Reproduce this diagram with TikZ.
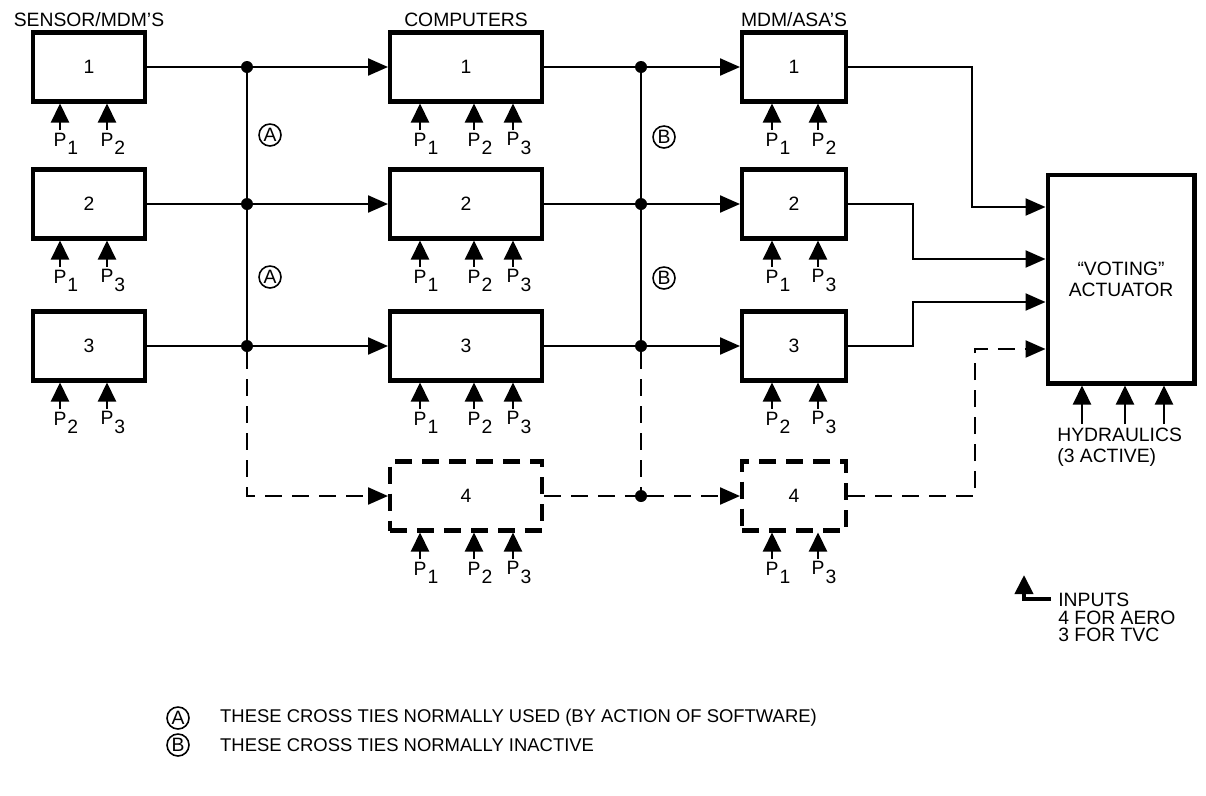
\documentclass[tikz,border=0pt]{standalone}
\usepackage{fontspec}
\setmainfont{Liberation Sans}
\usetikzlibrary{arrows.meta,positioning,calc}
\newcommand{\pn}[1]{P\rlap{\kern0.6pt\raisebox{-0.8ex}{#1}}}

\begin{document}
\begin{tikzpicture}[x=0.02cm,y=-0.02cm,font=\fontsize{11}{12}\selectfont,
  blk/.style={draw,line width=2.3pt,minimum height=1.38cm},
  sblk/.style={blk,minimum width=2.24cm},
  cblk/.style={blk,minimum width=3.04cm},
  mblk/.style={blk,minimum width=2.08cm},
  spare/.style={dash pattern=on 0.34cm off 0.2cm},
  wire/.style={line width=1.3pt},
  conn/.style={wire,-{Triangle[length=0.4cm,width=0.34cm]}},
  pwr/.style={line width=1.3pt,-{Triangle[length=0.38cm,width=0.36cm]}},
  dot/.style={circle,fill,inner sep=0pt,minimum size=0.24cm},
  tie/.style={circle,draw,line width=0.9pt,inner sep=0pt,minimum size=0.44cm},
  ttl/.style={inner sep=1pt},
  pin/.style={inner sep=1.5pt}]
\useasboundingbox (0,0) rectangle (1206,795);
% sensors, computers, MDM/ASA's
\node[sblk] (s1) at (89,67) {1};
\node[sblk] (s2) at (89,204) {2};
\node[sblk] (s3) at (89,346) {3};
\node[cblk] (c1) at (466,67) {1};
\node[cblk] (c2) at (466,204) {2};
\node[cblk] (c3) at (466,346) {3};
\node[cblk,spare] (c4) at (466,496) {4};
\node[mblk] (m1) at (794,67) {1};
\node[mblk] (m2) at (794,204) {2};
\node[mblk] (m3) at (794,346) {3};
\node[mblk,spare] (m4) at (794,496) {4};
\node[draw,line width=2.3pt,minimum width=2.94cm,minimum height=4.18cm,align=center] (act) at (1121,279) {``VOTING''\\ACTUATOR};
\node[ttl,above=1pt of s1] (ts) {SENSOR/MDM'S};
\node[ttl,above=1pt of c1] (tc) {COMPUTERS};
\node[ttl,above=1pt of m1] (tm) {MDM/ASA'S};

% power inputs
\foreach \b/\x/\n in {s1/60/1,s1/107/2,s2/60/1,s2/107/3,s3/60/2,s3/107/3,
  c1/420/1,c1/474/2,c1/513/3,c2/420/1,c2/474/2,c2/513/3,
  c3/420/1,c3/474/2,c3/513/3,c4/420/1,c4/474/2,c4/513/3,
  m1/772/1,m1/818/2,m2/772/1,m2/818/3,m3/772/2,m3/818/3,m4/772/1,m4/818/3}{
  \node[pin] (\b-\n) at ($(\b.south -| \x,0)+(0,40)$) {\pn{\n}};
  \draw[pwr] (\b-\n) -- (\b-\n |- \b.south);
}

% cross ties A
\node[dot] (a1) at (247,67) {};
\node[dot] (a2) at (247,204) {};
\node[dot] (a3) at (247,346) {};
\coordinate (a4) at (247,496);
\draw[wire] (s1) -- (a1);
\draw[wire] (s2) -- (a2);
\draw[wire] (s3) -- (a3);
\draw[conn] (a1) -- (c1);
\draw[conn] (a2) -- (c2);
\draw[conn] (a3) -- (c3);
\draw[wire] (a1) -- (a2) -- (a3);
\draw[conn,spare] (a3) -- (a4) -- (c4);
\node[tie] (ta1) at (270,135) {A};
\node[tie] (ta2) at (270,277) {A};

% cross ties B
\node[dot] (b1) at (641,67) {};
\node[dot] (b2) at (641,204) {};
\node[dot] (b3) at (641,346) {};
\node[dot] (b4) at (641,496) {};
\draw[wire] (c1) -- (b1);
\draw[wire] (c2) -- (b2);
\draw[wire] (c3) -- (b3);
\draw[wire,spare] (c4) -- (b4);
\draw[conn] (b1) -- (m1);
\draw[conn] (b2) -- (m2);
\draw[conn] (b3) -- (m3);
\draw[conn,spare] (b4) -- (m4);
\draw[wire] (b1) -- (b2) -- (b3);
\draw[wire,spare] (b3) -- (b4);
\node[tie] (tb1) at (664,137) {B};
\node[tie] (tb2) at (664,278) {B};

% to the actuator
\coordinate (k1) at (972,207);
\coordinate (k2) at (913,259);
\coordinate (k3) at (913,302);
\coordinate (k4) at (975,349);
\draw[conn] (m1.east) -| (k1) -- (k1 -| act.west);
\draw[conn] (m2.east) -| (k2) -- (k2 -| act.west);
\draw[conn] (m3.east) -| (k3) -- (k3 -| act.west);
\draw[conn,spare] (m4.east) -| (k4) -- (k4 -| act.west);

% hydraulics
\node[anchor=north west,align=left,inner sep=0pt,font=\fontsize{11}{11.5}\selectfont] (hyd) at (1057,428) {HYDRAULICS\\(3 ACTIVE)};
\foreach \x in {1082,1125,1164}
  \draw[pwr] (hyd.north -| \x,0) ++(0,-4) -- (act.south -| \x,0);

% inputs note
\node[anchor=north west,align=left,inner sep=0pt,font=\fontsize{11}{10}\selectfont] (inp) at (1058,593) {INPUTS\\4 FOR AERO\\3 FOR TVC};
\coordinate (lc) at (1024,599);
\draw[line width=2.3pt,-{Triangle[length=0.38cm,width=0.36cm]}] ($(lc -| inp.west)+(-7,0)$) -- (lc) -- ++(0,-24);

% legend
\node[tie] (la) at (178,718) {A};
\node[anchor=west,font=\fontsize{10.5}{12}\selectfont] (lta) at (214,718) {THESE CROSS TIES NORMALLY USED (BY ACTION OF SOFTWARE)};
\node[tie] (lb) at (178,745) {B};
\node[anchor=west,font=\fontsize{10.5}{12}\selectfont] (ltb) at (214,745) {THESE CROSS TIES NORMALLY INACTIVE};
\end{tikzpicture}
\end{document}
